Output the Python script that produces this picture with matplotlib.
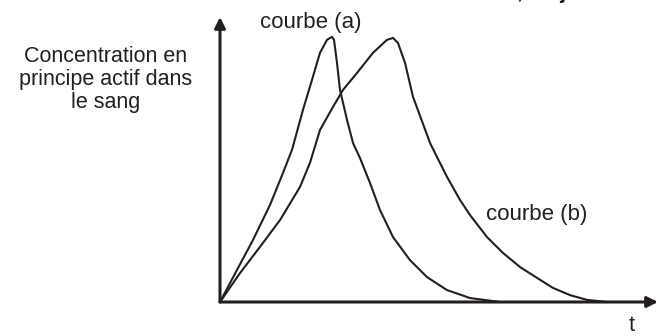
import matplotlib.pyplot as plt

# (t in arbitrary units, concentration in % of peak)
t_a = [0, 1.7, 3.3, 5.0, 6.3, 7.2, 8.3, 9.2, 10.0, 10.7, 11.2, 11.4, 11.7, 12.0,
       12.7, 13.3, 14.0, 15.0, 16.0, 17.3, 19.0, 20.7, 22.7, 25.0, 28.0]
c_a = [0, 12.1, 23.4, 36.6, 48.7, 57.4, 72.5, 83.8, 94.0, 98.9, 100, 98.9, 90.2, 80.0,
       68.7, 60.0, 54.3, 44.9, 34.7, 24.5, 15.8, 9.4, 4.5, 1.5, 0]

t_b = [0, 2.0, 4.0, 6.0, 8.0, 9.0, 10.0, 11.3, 12.3, 13.7, 15.3, 16.7, 17.3, 17.8,
       18.5, 19.3, 20.3, 21.0, 21.7, 22.7, 24.0, 25.0, 26.7, 28.3, 30.0, 31.7,
       33.3, 35.0, 36.7, 38.7]
c_b = [0, 10.9, 20.8, 30.9, 43.4, 52.5, 64.9, 73.6, 80.0, 86.4, 94.0, 98.9, 99.6, 97.7,
       90.2, 77.4, 67.2, 60.0, 54.7, 47.2, 38.5, 32.8, 24.5, 18.5, 13.2, 9.1,
       5.3, 2.6, 0.8, 0]

ink = "#231f20"
plt.rcParams["font.family"] = ["Liberation Sans", "DejaVu Sans"]

W, H = 658, 336
fig = plt.figure(figsize=(W / 100, H / 100), dpi=100)
ax = fig.add_axes([220 / W, 34 / H, 438 / W, 285 / H])
ax.set_xlim(0, 43.8)
ax.set_ylim(0, 107.5)
ax.axis("off")

for t, c in [(t_a, c_a), (t_b, c_b)]:
    ax.plot(t, c, color=ink, lw=1.5, solid_joinstyle="round", clip_on=False)

# axes with arrow heads
arrow = dict(arrowstyle="-|>", lw=2.2, color=ink, mutation_scale=16, shrinkA=0, shrinkB=0)
ax.annotate("", xy=(1, 0), xytext=(0, 0), xycoords="axes fraction", arrowprops=arrow)
ax.annotate("", xy=(0, 1), xytext=(0, 0), xycoords="axes fraction", arrowprops=arrow)


def ftext(x, y, s, size=15.5, **kw):
    fig.text(x / W, 1 - y / H, s, color=ink, fontsize=size, va="baseline", **kw)


ftext(106, 62, "Concentration en", ha="center")
ftext(106, 85, "principe actif dans", ha="center")
ftext(106, 108, "le sang", ha="center")
ftext(311, 28, "courbe (a)", size=16, ha="center")
ftext(537, 220, "courbe (b)", size=16, ha="center")
ftext(632, 331, "t", ha="center")
ftext(517, -2, ", au jour", ha="left", fontweight="bold")

fig.savefig("out.png", dpi=100)
